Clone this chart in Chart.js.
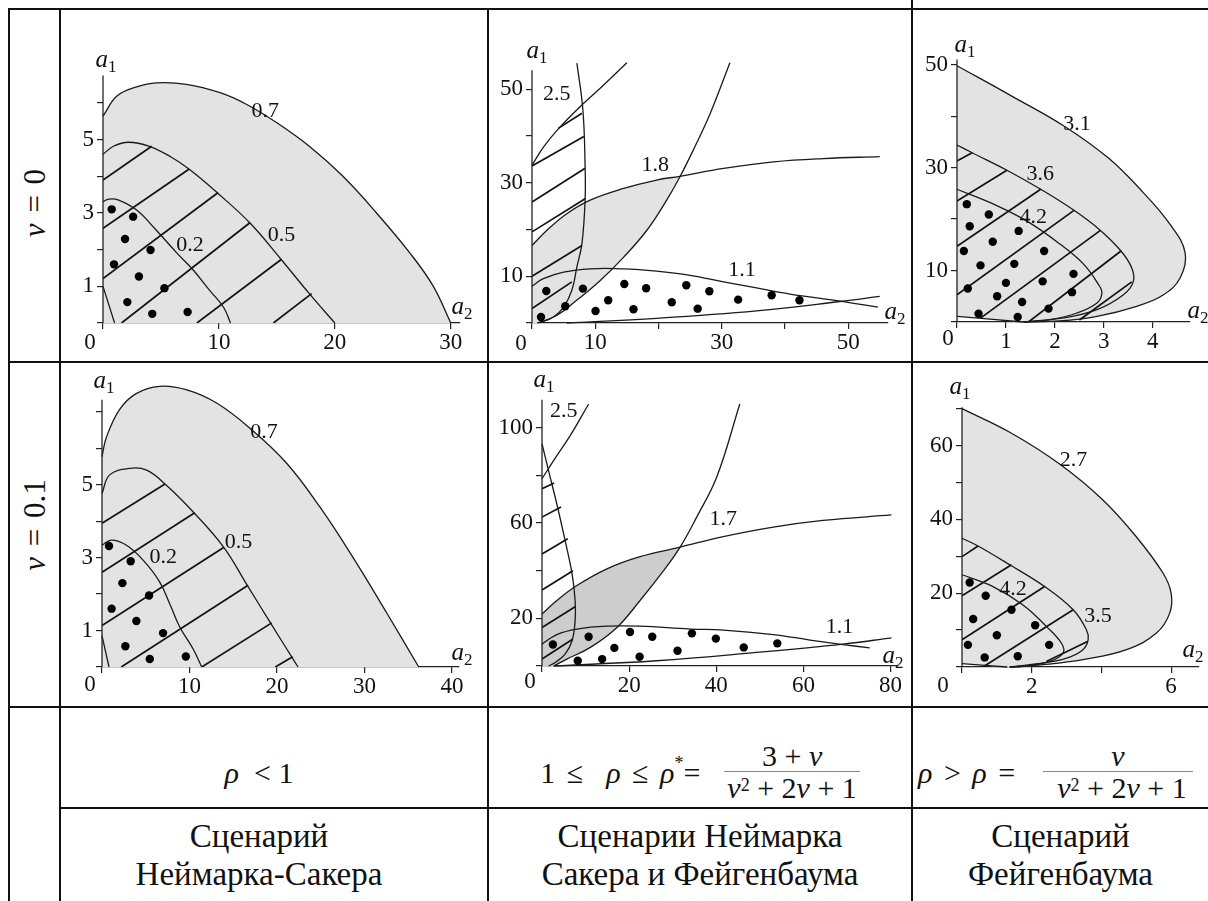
<!DOCTYPE html>
<html>
<head>
<meta charset="utf-8">
<script src="https://cdn.jsdelivr.net/npm/chart.js@4.4.1/dist/chart.umd.min.js"></script>
<style>
body { margin:0; background:#fff; width:1208px; height:901px; overflow:hidden; position:relative;
       font-family:'Liberation Serif', serif; color:#111; }
.hl, .vl { position:absolute; background:#111; }
.hl { height:2px; }
.vl { width:2px; }
canvas { position:absolute; }
.cell { position:absolute; display:flex; align-items:center; justify-content:center; font-family:'Liberation Serif', serif;
        font-size:30px; white-space:nowrap; box-sizing:border-box; }
.lab { text-align:center; line-height:38px; font-size:33px; }
.frac { display:inline-flex; flex-direction:column; align-items:center; }
.num { line-height:30px; }
.den { line-height:32px; border-top:1.5px solid #888; }
sup { font-size:60%; vertical-align:top; position:relative; top:-3px; }
.rowlab { position:absolute; font-family:'Liberation Serif', serif; font-size:31px; white-space:nowrap;
          transform:translate(-50%,-50%) rotate(-90deg); word-spacing:3px; }
</style>
</head>
<body>

<!-- table lines -->
<div class="hl" style="left:8px;top:8px;width:1200px"></div>
<div class="vl" style="left:8px;top:8px;height:893px"></div>
<div class="vl" style="left:59px;top:8px;height:893px"></div>
<div class="vl" style="left:487px;top:8px;height:893px"></div>
<div class="vl" style="left:911px;top:0px;height:901px"></div>
<div class="hl" style="left:8px;top:361px;width:1200px"></div>
<div class="hl" style="left:8px;top:706px;width:1200px"></div>
<div class="hl" style="left:59px;top:807px;width:1149px"></div>

<div class="rowlab" style="left:35px;top:203px"><i>ν</i> = 0</div>
<div class="rowlab" style="left:35px;top:525px"><i>ν</i> = 0.1</div>

<div class="cell" style="left:61px;top:708px;width:396px;height:99px;padding-top:30px"><span><i>ρ</i>&nbsp; &lt; 1</span></div>
<div class="cell" style="left:489px;top:708px;width:422px;height:99px;padding-top:30px">
  <span style="word-spacing:4px">1 ≤ &nbsp;<i>ρ</i> ≤ <i>ρ</i><sup>*</sup>=</span>
  <span class="frac" style="margin-left:24px"><span class="num">3 + <i>ν</i></span><span class="den" style="padding:0 3px"><i>ν</i><sup>2</sup> + 2<i>ν</i> + 1</span></span>
</div>
<div class="cell" style="left:913px;top:708px;width:295px;height:99px;padding-top:30px;justify-content:flex-start">
  <span style="margin-left:5px;word-spacing:4px"><i>ρ</i> &gt; <i>ρ</i> =</span>
  <span class="frac" style="margin-left:28px"><span class="num"><i>ν</i></span><span class="den" style="padding:0 6px 0 14px"><i>ν</i><sup>2</sup> + 2<i>ν</i> + 1</span></span>
</div>

<div class="cell lab" style="left:61px;top:809px;width:396px;height:92px"><div>Сценарий<br>Неймарка-Сакера</div></div>
<div class="cell lab" style="left:489px;top:809px;width:422px;height:92px"><div>Сценарии Неймарка<br>Сакера и Фейгенбаума</div></div>
<div class="cell lab" style="left:913px;top:809px;width:295px;height:92px"><div>Сценарий<br>Фейгенбаума</div></div>

<canvas id="tl"></canvas>
<canvas id="tm"></canvas>
<canvas id="tr"></canvas>
<canvas id="bl"></canvas>
<canvas id="bm"></canvas>
<canvas id="br"></canvas>

<script>
// ---------- nu = 0, rho < 1 ----------
var tl_curve07 = [[0,5.64],[1.2,6.19],[2.9,6.44],[4.6,6.55],[7.2,6.51],[10.1,6.28],[12.4,5.96],[15,5.46],[17.8,4.82],[20.7,4.0],[23.6,3.0],[26.5,1.9],[28.5,1.0],[30,0]];
var tl_curve05 = [[0,4.6],[0.9,4.82],[2.2,4.93],[4.0,4.82],[5.8,4.54],[7.5,4.18],[9.9,3.54],[12.7,2.72],[15.3,1.76],[17.8,0.8],[20,0]];
var tl_curve02 = [[0,3.31],[0.5,3.38],[1.3,3.36],[2.9,3.08],[4.6,2.53],[6.4,1.9],[7.8,1.44],[9.2,0.89],[10.4,0.43],[11,0]];
var tl_inner = [[0,1.0],[1.0,0]];
var tl_hatch = [[[0,3.9],[4.2,4.82]],[[0,2.58],[7.44,4.2]],[[0,1.21],[9.94,3.56]],[[1.6,0],[12.7,2.74]],[[8.1,0],[15.4,1.74]],[[14.7,0],[18.0,0.8]]];
var tl_dots = [[0.75,3.1],[2.6,2.9],[1.9,2.29],[4.1,1.99],[0.95,1.6],[3.1,1.27],[5.3,0.95],[2.1,0.57],[4.25,0.25],[7.3,0.3]];
var tl_labels = [['0.7',14,5.77],['0.5',15.4,2.4],['0.2',7.5,2.12]];
var tl_xTicks = [10,20,30];
var tl_yTicks = [1,3,5];

// ---------- nu = 0, 1 <= rho <= rho* ----------
var tm_curveA = [[7.1,55.6],[8.05,45.6],[8.4,33.4],[8.4,26.3],[7.9,17],[7.1,12],[6.3,7],[5,3.4],[3.4,1.3],[1.2,0]];
var tm_curveB = [[0,33.8],[1.84,37.7],[4.2,41.6],[7.6,46.3],[11.3,50.9],[15,55.7]];
var tm_curveC = [[0.8,0],[3.9,1.6],[7.1,4.9],[10.8,9.1],[14.5,14.1],[18.2,19.9],[21.3,26.3],[23.4,31.3],[25.5,37],[28.2,44.9],[31.3,55.7]];
var tm_curve18 = [[0,16.6],[2.4,19.9],[5.5,23.4],[9.2,26.3],[14.5,28.8],[19.7,30.6],[23.4,31.4],[30.3,33.1],[38.2,34.5],[46.1,35.2],[55,35.6]];
var tm_curve11 = [[0,7.9],[1.8,9.5],[5,10.9],[9.2,11.6],[14.5,11.6],[19.7,11.1],[25,10.2],[30.3,8.8],[35.5,7.5],[40.8,6.2],[48.7,4.7],[54.7,3.4]];
var tm_lower = [[5.5,0],[19.7,1.0],[35.5,2.6],[48.7,4.6],[55,5.7]];
var tm_hatch = [[[4.2,41.7],[7.9,44.9]],[[0,33.6],[8.2,39.9]],[[0,25.9],[8.4,33.1]],[[0,19.5],[8.4,26.6]],[[0,10],[7.9,16.6]],[[0,3.1],[6.3,8.8]]];
var tm_dots = [[1.42,1.29],[2.26,6.86],[5.26,3.57],[8.05,7.36],[10.05,2.57],[12.05,4.86],[14.6,8.36],[16.05,2.93],[18.05,7.43],[22.1,4.43],[24.4,8.07],[26.2,3.07],[28.05,6.79],[32.6,5],[37.9,5.93],[42.3,4.86]];
var tm_labels = [['2.5',3.9,49],['1.8',19.5,33.8],['1.1',33.2,11.3]];
var tm_xTicks = [10,30,50];
var tm_yTicks = [10,30,50];

// ---------- nu = 0, rho > rho ----------
var tr_curve31 = [[0,49.8],[1.1,44.0],[2.2,38.0],[3.1,31.8],[3.8,25.2],[4.35,19],[4.66,13.5],[4.56,8.6],[4.22,5.3],[3.67,3.05],[2.86,1.1],[2.1,0.2],[1.35,0]];
var tr_curve36 = [[0,34.4],[0.31,32.9],[1.02,29.5],[1.71,25.8],[2.39,21.7],[2.93,17.8],[3.35,13.8],[3.57,10.5],[3.6,7.8],[3.4,5.3],[2.86,2.4],[2.18,0.8],[1.36,0]];
var tr_curve42 = [[0,25.8],[0.75,22.9],[1.43,19.6],[2.11,15.1],[2.59,11.2],[2.89,7.3],[2.96,5.6],[2.86,3.7],[2.45,1.75],[1.9,0.45],[1.36,0]];
var tr_inner = [[0,1.1],[1.35,0]];
var tr_hatch = [[[0,31.3],[0.31,32.9]],[[0,23.5],[1.02,29.5]],[[0,14.7],[1.71,25.8]],[[0,5.3],[2.39,21.7]],[[0.48,0.75],[2.93,17.8]],[[1.46,0],[3.35,13.8]],[[2.5,0.4],[3.57,7.8]]];
var tr_dots = [[0.2,22.9],[0.65,20.9],[0.26,18.6],[1.26,17.7],[0.73,15.6],[0.14,13.8],[1.78,13.8],[0.48,11],[1.17,11.3],[1.0,7.6],[1.75,7.9],[2.38,9.35],[0.22,6.5],[0.82,5],[1.33,3.9],[2.35,5.8],[0.44,1.6],[1.24,0.97],[1.87,2.6]];
var tr_labels = [['3.1',2.45,38.4],['3.6',1.7,28.7],['4.2',1.56,20.3]];
var tr_xTicks = [1,2,3,4];
var tr_yTicks = [10,30,50];

// ---------- nu = 0.1, rho < 1 ----------
var bl_curve07 = [[0,5.77],[0.5,6.3],[2.0,7.06],[3.9,7.5],[6.6,7.7],[9.7,7.6],[13.1,7.24],[16.9,6.55],[21.1,5.59],[24.9,4.39],[28.7,3.0],[32.6,1.46],[36.2,0]];
var bl_curve05 = [[0,4.76],[0.88,5.27],[3.2,5.45],[5.1,5.4],[7.2,5.02],[10.4,4.26],[13.9,3.29],[16.5,2.28],[19.2,1.23],[21.1,0.5],[22.4,0]];
var bl_curve02 = [[0,3.34],[1.07,3.48],[2.8,3.34],[4.7,2.93],[6.6,2.33],[7.75,1.73],[8.9,1.09],[10.4,0.5],[11.4,0]];
var bl_inner = [[0,0.86],[0.8,0]];
var bl_hatch = [[[0,3.94],[7.2,5.02]],[[0,2.6],[10.6,4.23]],[[0,1.14],[13.9,3.28]],[[2.2,0],[16.7,2.24]],[[11.4,0],[19.4,1.21]],[[19.8,0],[21.8,0.28]]];
var bl_dots = [[0.8,3.32],[3.28,2.9],[2.33,2.3],[5.38,1.96],[1.1,1.6],[3.93,1.26],[6.98,0.93],[2.67,0.57],[5.46,0.22],[9.58,0.29]];
var bl_labels = [['0.7',18.5,6.43],['0.5',15.6,3.43],['0.2',7.0,3.0]];
var bl_xTicks = [10,20,30,40];
var bl_yTicks = [1,3,5];

// ---------- nu = 0.1, 1 <= rho <= rho* ----------
var bm_curveA = [[0,93.3],[1.5,82],[3.4,68],[5.3,52.7],[6.9,38.7],[7.6,27.5],[7.6,19],[6.9,10.6],[5.3,5],[3.05,1.5],[1.5,0]];
var bm_curveB = [[0,78.6],[2.7,86.3],[6.5,96.8],[10.7,110]];
var bm_curveC = [[2.7,0],[5.7,2.9],[11.1,7.8],[17.2,16.2],[22.5,27.5],[27.9,40],[31.7,49.9],[35.5,62.5],[40.1,79.3],[45.4,110]];
var bm_curve17 = [[0,21.8],[3.4,27.5],[8.0,33.8],[14.9,40.8],[22.5,45.9],[31.7,49.9],[41.6,54.3],[53.1,58.3],[64.5,61.1],[80.2,63.4]];
var bm_curve11 = [[0,9.2],[3.4,13.2],[8,15.5],[14.9,16.7],[22.5,16.7],[34,15.5],[41.6,15.1],[53.1,13.2],[61.5,10.9],[69.1,9.0],[75.2,7.6]];
var bm_lower = [[2.7,0],[26.3,2.2],[49.2,5.7],[69.1,9.2],[80.2,11.8]];
var bm_hatch = [[[0,74.4],[2.8,76.8]],[[0,62.5],[4.35,66.7]],[[0,47],[5.9,53.4]],[[0,31.9],[7.1,40]],[[0,16.2],[7.6,24.9]],[[0,2.9],[7.1,11.3]]];
var bm_dots = [[2.5,9],[10.7,12.3],[20.2,14.3],[25.3,12.3],[34.4,13.7],[39.9,11.5],[16.6,7.6],[8.2,2.2],[13.8,2.9],[22.4,3.9],[31.1,6.4],[46.3,7.8],[54,9.5]];
var bm_labels = [['2.5',5,107],['1.7',41.6,61.8],['1.1',68.3,16.2]];
var bm_xTicks = [20,40,60,80];
var bm_yTicks = [20,60,100];

// ---------- nu = 0.1, rho > rho ----------
var br_curve27 = [[0,70],[1.37,63.6],[2.8,55],[4.05,45.2],[5.0,35.3],[5.77,25.4],[6.0,20],[5.96,14.6],[5.58,9.2],[4.72,4.7],[3.47,2.0],[2.33,0.63],[1.37,0]];
var br_curve35 = [[0,34.9],[0.46,32.8],[1.37,27.7],[2.37,21.8],[3.19,15.5],[3.57,10.1],[3.62,7.4],[3.47,4.7],[3.0,2.4],[2.33,1.1],[1.37,0]];
var br_curve42 = [[0,25],[0.89,21.8],[1.75,16.8],[2.42,11],[2.85,6.5],[2.9,3.8],[2.52,1.5],[1.75,0.2],[1.37,0]];
var br_inner = [[0,0.9],[1.3,0]];
var br_hatch = [[[0,29.9],[0.46,32.8]],[[0,19.3],[1.42,27.7]],[[0,7.4],[2.37,21.8]],[[0.6,0],[3.19,15.5]],[[2.42,1.5],[3.6,6.9]]];
var br_dots = [[0.22,22.9],[0.68,19.3],[0.32,13],[1.42,15.5],[1.0,8.6],[2.1,11.3],[0.17,6],[2.5,6],[0.65,2.6],[1.6,2.9]];
var br_labels = [['2.7',3.2,56],['4.2',1.46,21],['3.5',3.9,13.7]];
var br_xTicks = [2,6];
var br_yTicks = [20,40,60];

var lightGray = '#e3e3e3';
var midGray = '#cdcdcd';
var ink = '#1a1a1a';
var serif = "'Liberation Serif', serif";

function toXY(pts) {
    return pts.map(function (p) { return { x: p[0], y: p[1] }; });
}

// region left of the steep curve and under the flat one (middle panels)
function wedge(top, side, xCut, yCut) {
    var a = top.filter(function (p) { return p[0] <= xCut; });
    var b = side.filter(function (p) { return p[1] <= yCut; }).reverse();
    return a.concat(b).concat([[0,0]]);
}

function drawSub(ctx, base, sub, x, y) {
    ctx.font = 'italic 25px ' + serif;
    var w1 = ctx.measureText(base).width;
    ctx.font = '17px ' + serif;
    var w2 = ctx.measureText(sub).width;
    var x0 = x - (w1 + w2) / 2;
    ctx.textAlign = 'left';
    ctx.textBaseline = 'alphabetic';
    ctx.font = 'italic 25px ' + serif;
    ctx.fillText(base, x0, y + 5);
    ctx.font = '17px ' + serif;
    ctx.fillText(sub, x0 + w1, y + 10);
}

function textPlugin(p) {
    return {
        id: 'panelText',
        afterDraw: function (chart) {
            var ctx = chart.ctx, xs = chart.scales.x, ys = chart.scales.y;
            var x0 = xs.getPixelForValue(0), y0 = ys.getPixelForValue(0);
            ctx.save();
            ctx.fillStyle = '#111';
            ctx.textAlign = 'center';
            ctx.textBaseline = 'middle';
            ctx.font = '22px ' + serif;
            p.labels.forEach(function (l) {
                ctx.fillText(l[0], xs.getPixelForValue(l[1]), ys.getPixelForValue(l[2]));
            });
            ctx.font = '23px ' + serif;
            ctx.fillText('0', x0 + p.zero[0], y0 + p.zero[1]);
            drawSub(ctx, 'a', '1', x0 + p.a1[0], ys.getPixelForValue(p.axisTop) + p.a1[1]);
            drawSub(ctx, 'a', '2', xs.right + p.a2[0], y0 + p.a2[1]);
            ctx.restore();
        }
    };
}

function makePanel(id, p) {
    var cv = document.getElementById(id);
    var areaW = Math.round(p.xMax * p.xPx), areaH = Math.round(p.yMax * p.yPx);
    var w = areaW + 90, h = areaH + 80;
    cv.width = w; cv.height = h;
    cv.style.left = (p.ox - 50) + 'px';
    cv.style.top = (p.oy - areaH - 40) + 'px';
    cv.style.width = w + 'px';
    cv.style.height = h + 'px';

    var datasets = [];
    p.fills.forEach(function (f) {
        datasets.push({ data: toXY(f.pts), showLine: true, fill: f.mode, backgroundColor: f.color,
            borderColor: 'rgba(0,0,0,0)', borderWidth: 0, pointRadius: 0, tension: 0.4, order: 5 });
    });
    // vertical axis line, stops below the top of the plotting box
    datasets.push({ data: toXY([[0,0],[0,p.axisTop]]), showLine: true, fill: false, borderColor: '#222',
        borderWidth: 1.3, pointRadius: 0, tension: 0, clip: 14, order: 1 });
    p.curves.forEach(function (c) {
        datasets.push({ data: toXY(c), showLine: true, fill: false, borderColor: ink, borderWidth: 1.3,
            pointRadius: 0, tension: 0.4, clip: 14, order: 1 });
    });
    p.hatch.forEach(function (s) {
        datasets.push({ data: toXY(s), showLine: true, fill: false, borderColor: '#111', borderWidth: 1.7,
            pointRadius: 0, tension: 0, order: 1 });
    });
    datasets.push({ data: toXY(p.dots), showLine: false, pointRadius: 4.2, pointBackgroundColor: '#000',
        pointBorderWidth: 0, backgroundColor: '#000', order: 0 });

    var tickFont = { family: serif, size: 23 };
    new Chart(cv, {
        type: 'scatter',
        data: { datasets: datasets },
        options: {
            responsive: false,
            animation: false,
            events: [],
            layout: { padding: { left: 5, top: 40, right: 40, bottom: 5 } },
            plugins: { legend: { display: false }, tooltip: { enabled: false } },
            scales: {
                x: {
                    type: 'linear', min: 0, max: p.xMax,
                    afterFit: function (s) { s.height = 35; },
                    ticks: { stepSize: p.xStep, includeBounds: false, autoSkip: false, maxRotation: 0, padding: 0,
                        color: '#111', font: tickFont,
                        callback: function (v) { return p.xTicks.indexOf(v) >= 0 ? String(v) : ''; } },
                    grid: { drawOnChartArea: false, drawTicks: true, tickLength: 6, color: '#222', lineWidth: 1.2 },
                    border: { color: '#222', width: 1.3 }
                },
                y: {
                    type: 'linear', min: 0, max: p.yMax,
                    afterFit: function (s) { s.width = 45; },
                    ticks: { stepSize: p.yStep, includeBounds: false, autoSkip: false, padding: 3,
                        color: '#111', font: tickFont,
                        callback: function (v) { return p.yTicks.indexOf(v) >= 0 ? String(v) : ''; } },
                    grid: { drawOnChartArea: false, drawTicks: true, tickLength: 6, color: '#222', lineWidth: 1.2 },
                    border: { display: false }
                }
            }
        },
        plugins: [textPlugin(p)]
    });
}

makePanel('tl', {
    ox: 103, oy: 323, xPx: 11.59, yPx: 36.6, xMax: 30.8, yMax: 6.9, axisTop: 6.75, xStep: 10, yStep: 1,
    xTicks: tl_xTicks, yTicks: tl_yTicks,
    fills: [{ pts: tl_curve07, mode: 'origin', color: lightGray }],
    curves: [tl_curve07, tl_curve05, tl_curve02, tl_inner],
    hatch: tl_hatch, dots: tl_dots, labels: tl_labels,
    zero: [-13, 20], a1: [3, -14], a2: [2, -14]
});

makePanel('tm', {
    ox: 532, oy: 323, xPx: 6.32, yPx: 4.68, xMax: 56.3, yMax: 56.5, axisTop: 54.1, xStep: 10, yStep: 10,
    xTicks: tm_xTicks, yTicks: tm_yTicks,
    fills: [{ pts: wedge(tm_curve18, tm_curveC, 23.4, 31.35), mode: 'shape', color: lightGray }],
    curves: [tm_curveA, tm_curveB, tm_curveC, tm_curve18, tm_curve11, tm_lower],
    hatch: tm_hatch, dots: tm_dots, labels: tm_labels,
    zero: [-11, 21], a1: [5, -17], a2: [7, -9]
});

makePanel('tr', {
    ox: 957, oy: 322, xPx: 48.9, yPx: 5.14, xMax: 4.76, yMax: 51.5, axisTop: 51, xStep: 1, yStep: 10,
    xTicks: tr_xTicks, yTicks: tr_yTicks,
    fills: [{ pts: tr_curve31.concat([tr_inner[0]]), mode: 'shape', color: lightGray }],
    curves: [tr_curve31, tr_curve36, tr_curve42, tr_inner],
    hatch: tr_hatch, dots: tr_dots, labels: tr_labels,
    zero: [-9, 17], a1: [8, -13], a2: [8, -9]
});

makePanel('bl', {
    ox: 102, oy: 667, xPx: 8.75, yPx: 36.4, xMax: 40.8, yMax: 7.9, axisTop: 7.33, xStep: 10, yStep: 1,
    xTicks: bl_xTicks, yTicks: bl_yTicks,
    fills: [{ pts: bl_curve07, mode: 'origin', color: lightGray }],
    curves: [bl_curve07, bl_curve05, bl_curve02, bl_inner],
    hatch: bl_hatch, dots: bl_dots, labels: bl_labels,
    zero: [-12, 18], a1: [2, -17], a2: [3, -12]
});

makePanel('bm', {
    ox: 542, oy: 666, xPx: 4.36, yPx: 2.38, xMax: 81.7, yMax: 112.5, axisTop: 111.8, xStep: 20, yStep: 20,
    xTicks: bm_xTicks, yTicks: bm_yTicks,
    fills: [{ pts: wedge(bm_curve17, bm_curveC, 31.7, 49.95), mode: 'shape', color: midGray }],
    curves: [bm_curveA, bm_curveB, bm_curveC, bm_curve17, bm_curve11, bm_lower],
    hatch: bm_hatch, dots: bm_dots, labels: bm_labels,
    zero: [-12, 16], a1: [2, -18], a2: [-5, -8]
});

makePanel('br', {
    ox: 962, oy: 667, xPx: 34.85, yPx: 3.69, xMax: 6.8, yMax: 71, axisTop: 70.4, xStep: 2, yStep: 10,
    xTicks: br_xTicks, yTicks: br_yTicks,
    fills: [{ pts: br_curve27.concat([br_inner[0]]), mode: 'shape', color: lightGray }],
    curves: [br_curve27, br_curve35, br_curve42, br_inner],
    hatch: br_hatch, dots: br_dots, labels: br_labels,
    zero: [-19, 19], a1: [-2, -18], a2: [-6, -15]
});
</script>
</body>
</html>
